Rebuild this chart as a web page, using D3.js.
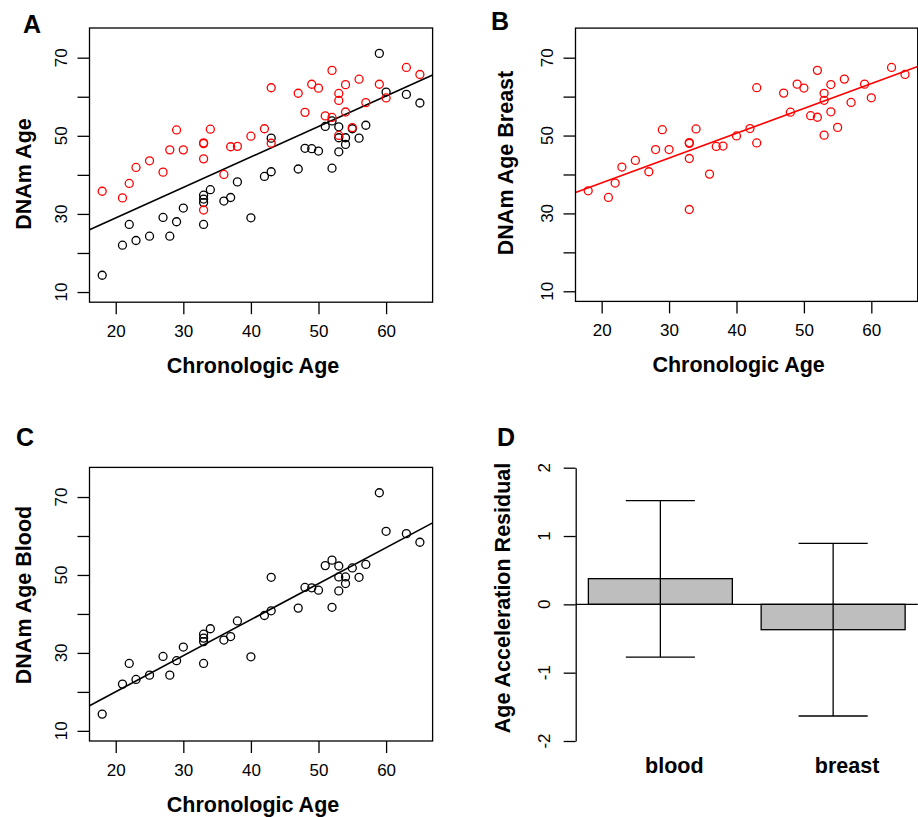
<!DOCTYPE html>
<html>
<head>
<meta charset="utf-8">
<script src="https://cdn.jsdelivr.net/npm/d3@7"></script>
<style>
  body { margin: 0; background: white; }
  text { font-family: "Liberation Sans", Arial, sans-serif; }
</style>
</head>
<body>
<script>
// chronologic age of each sample (same order for both tissues)
let ages = [18, 21, 22, 23, 25, 27, 28, 29, 30, 33, 33, 33, 33, 34, 36, 37, 38, 40, 42, 43,
            43, 47, 48, 49, 50, 51, 52, 52, 53, 53, 53, 54, 54, 55, 56, 57, 59, 60, 63, 65]

// DNAm age in blood
let bloodAge = [14.3, 22.0, 27.3, 23.2, 24.3, 29.1, 24.3, 28.0, 31.5, 27.3, 32.9, 33.8, 34.8, 36.2, 33.3, 34.2, 38.2, 29.0, 39.6, 40.8,
                49.4, 41.5, 46.8, 46.7, 46.1, 52.4, 53.8, 41.7, 52.3, 49.5, 45.9, 49.5, 47.8, 51.8, 49.4, 52.7, 71.1, 61.2, 60.6, 58.4]

// DNAm age in breast
let breastAge = [35.8, 34.1, 37.8, 41.9, 43.6, 40.7, 46.4, 51.5, 46.4, 48.2, 48.0, 44.1, 31.0, 51.7, 40.1, 47.2, 47.3, 49.9, 51.8, 62.3,
                 48.1, 60.9, 56.0, 63.2, 62.2, 55.1, 66.75, 54.7, 60.85, 59.05, 50.1, 63.1, 56.1, 52.1, 64.5, 58.5, 63.2, 59.7, 67.5, 65.7]

// panel D: age acceleration residual
let tissues = ['blood', 'breast']
let residMean = [0.376, -0.371]
let residLow = [-0.771, -1.634]
let residHigh = [1.517, 0.893]

let xTicks = [20, 30, 40, 50, 60]
let yTicks = [10, 20, 30, 40, 50, 60, 70]
let yTickLabels = ['10', '', '30', '', '50', '', '70']
let dTicks = [-2, -1, 0, 1, 2]

let width = 918,
    height = 817

let svg = d3.select('body')
            .append('svg')
            .attr('width', width)
            .attr('height', height)
            .style('background', 'white')

// R style axis padding (4%)
function padded(lo, hi) {
  let d = (hi - lo) * 0.04
  return [lo - d, hi + d]
}

// least squares fit
function fit(xs, ys) {
  let mx = d3.mean(xs), my = d3.mean(ys)
  let sxy = d3.sum(xs, (x, i) => (x - mx) * (ys[i] - my))
  let sxx = d3.sum(xs, x => (x - mx) * (x - mx))
  let b = sxy / sxx
  return { a: my - b * mx, b: b }
}

function letter(txt, x, y) {
  svg.append('text')
     .text(txt)
     .attr('x', x)
     .attr('y', y)
     .style('font-size', '25px')
     .style('font-weight', 'bold')
}

function yTitle(txt, x, y) {
  svg.append('text')
     .text(txt)
     .attr('transform', `translate(${x},${y}) rotate(-90)`)
     .attr('text-anchor', 'middle')
     .style('font-size', '21.5px')
     .style('font-weight', 'bold')
}

function scatter(id, box, sets, reg, regColor, ylab, ylabX, ylabY) {
  let x = d3.scaleLinear()
            .domain(padded(d3.min(ages), d3.max(ages)))
            .range([box.left, box.right])
  let y = d3.scaleLinear()
            .domain(padded(10, 75))
            .range([box.bottom, box.top])

  let g = svg.append('g')

  g.append('clipPath').attr('id', 'clip' + id)
   .append('rect')
   .attr('x', box.left).attr('y', box.top)
   .attr('width', box.right - box.left).attr('height', box.bottom - box.top)

  // regression line
  let xd = x.domain()
  g.append('line')
   .attr('clip-path', `url(#clip${id})`)
   .attr('x1', x(xd[0])).attr('y1', y(reg.a + reg.b * xd[0]))
   .attr('x2', x(xd[1])).attr('y2', y(reg.a + reg.b * xd[1]))
   .attr('stroke', regColor)
   .attr('stroke-width', 1.6)

  sets.forEach(s => {
    g.append('g').selectAll('circle')
     .data(ages)
     .join('circle')
     .attr('cx', d => x(d))
     .attr('cy', (d, i) => y(s.values[i]))
     .attr('r', 4)
     .attr('fill', 'none')
     .attr('stroke', s.color)
     .attr('stroke-width', 1.3)
  })

  g.append('rect')
   .attr('x', box.left).attr('y', box.top)
   .attr('width', box.right - box.left).attr('height', box.bottom - box.top)
   .attr('fill', 'none')
   .attr('stroke', 'black')
   .attr('stroke-width', 1.3)

  let xa = g.append('g')
            .attr('transform', `translate(0,${box.bottom})`)
            .call(d3.axisBottom(x).tickValues(xTicks).tickSize(12).tickPadding(10.5))
  xa.select('.domain').remove()
  xa.selectAll('text').style('font-size', '17px')
  xa.selectAll('line').attr('stroke-width', 1.3)

  let ya = g.append('g')
            .attr('transform', `translate(${box.left},0)`)
            .call(d3.axisLeft(y).tickValues(yTicks).tickSize(12).tickFormat(''))
  ya.select('.domain').remove()
  ya.selectAll('line').attr('stroke-width', 1.3)

  g.selectAll('.ylab')
   .data(yTicks)
   .join('text')
   .text((d, i) => yTickLabels[i])
   .attr('transform', d => `translate(${box.left - 22.5},${y(d)}) rotate(-90)`)
   .attr('text-anchor', 'middle')
   .style('font-size', '17px')

  svg.append('text')
     .text('Chronologic Age')
     .attr('x', (box.left + box.right) / 2 - 8)
     .attr('y', box.bottom + 71)
     .attr('text-anchor', 'middle')
     .style('font-size', '21.5px')
     .style('font-weight', 'bold')

  yTitle(ylab, ylabX, ylabY)
}

let boxA = { left: 89.5, right: 432.6, top: 28, bottom: 302.2 }
let boxB = { left: 575.5, right: 917.7, top: 28.1, bottom: 301.4 }
let boxC = { left: 89.5, right: 432.6, top: 467.4, bottom: 741 }

let allAges = ages.concat(ages)
let allDnam = bloodAge.concat(breastAge)

scatter('A', boxA,
        [{ values: bloodAge, color: 'black' }, { values: breastAge, color: 'red' }],
        fit(allAges, allDnam), 'black', 'DNAm Age', 31, 174)
scatter('B', boxB,
        [{ values: breastAge, color: 'red' }],
        fit(ages, breastAge), 'red', 'DNAm Age Breast', 513, 163)
scatter('C', boxC,
        [{ values: bloodAge, color: 'black' }],
        fit(ages, bloodAge), 'black', 'DNAm Age Blood', 31, 595)

// Panel D bar chart
let boxD = { left: 575.7, right: 917.8, top: 467.7, bottom: 741 }

let bx = d3.scaleBand()
           .domain(tissues)
           .range([boxD.left, boxD.right])
           .paddingInner(0.2 / 1.2)
           .paddingOuter(0.088 / 1.2)
let by = d3.scaleLinear()
           .domain([-2, 2])
           .range([boxD.bottom, boxD.top])

let gd = svg.append('g')

gd.selectAll('.bar')
  .data(tissues)
  .join('rect')
  .attr('x', d => bx(d))
  .attr('width', bx.bandwidth())
  .attr('y', (d, i) => by(Math.max(0, residMean[i])))
  .attr('height', (d, i) => Math.abs(by(residMean[i]) - by(0)))
  .attr('fill', '#bebebe')
  .attr('stroke', 'black')
  .attr('stroke-width', 1.3)

gd.append('line')
  .attr('x1', boxD.left).attr('x2', boxD.right)
  .attr('y1', by(0)).attr('y2', by(0))
  .attr('stroke', 'black')
  .attr('stroke-width', 1.3)

// error bars
let cap = bx.bandwidth() * 0.24
tissues.forEach((t, i) => {
  let cx = bx(t) + bx.bandwidth() / 2
  gd.append('line')
    .attr('x1', cx).attr('x2', cx)
    .attr('y1', by(residLow[i])).attr('y2', by(residHigh[i]))
    .attr('stroke', 'black').attr('stroke-width', 1.3)
  ;[residLow[i], residHigh[i]].forEach(v => {
    gd.append('line')
      .attr('x1', cx - cap).attr('x2', cx + cap)
      .attr('y1', by(v)).attr('y2', by(v))
      .attr('stroke', 'black').attr('stroke-width', 1.3)
  })
  gd.append('text')
    .text(t)
    .attr('x', cx + 14)
    .attr('y', 773)
    .attr('text-anchor', 'middle')
    .style('font-size', '21.5px')
    .style('font-weight', 'bold')
})

let da = gd.append('g')
           .attr('transform', `translate(${boxD.left},0)`)
           .call(d3.axisLeft(by).tickValues(dTicks).tickSize(12).tickSizeOuter(0).tickFormat(''))
da.selectAll('line, path').attr('stroke-width', 1.3)

gd.selectAll('.dlab')
  .data(dTicks)
  .join('text')
  .text(d => d)
  .attr('transform', d => `translate(${boxD.left - 26},${by(d)}) rotate(-90)`)
  .attr('text-anchor', 'middle')
  .style('font-size', '17px')

yTitle('Age Acceleration Residual', 510, 598)

letter('A', 23, 33)
letter('B', 491, 30)
letter('C', 16, 446)
letter('D', 497, 446)
</script>
</body>
</html>
